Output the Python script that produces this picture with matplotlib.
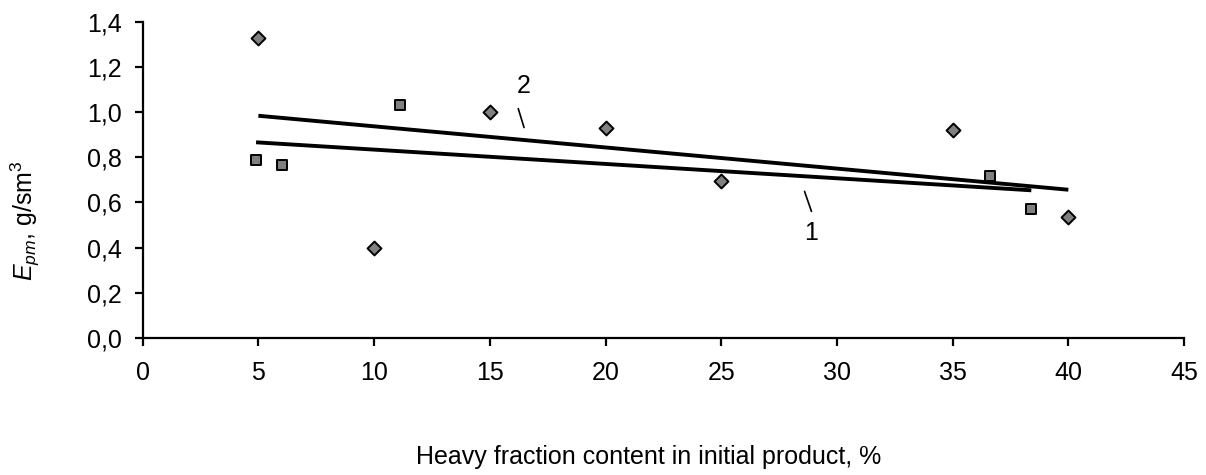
import numpy as np
import matplotlib
matplotlib.use('Agg')
import matplotlib.pyplot as plt
from matplotlib.ticker import FuncFormatter

# данные серии 1 (квадраты)
x1 = [4.9, 6.0, 11.1, 36.6, 38.4]
y1 = [0.79, 0.765, 1.03, 0.715, 0.572]

# данные серии 2 (ромбы)
x2 = [5, 10, 15, 20, 25, 35, 40]
y2 = [1.33, 0.40, 1.00, 0.93, 0.695, 0.92, 0.537]

x_ticks = [0, 5, 10, 15, 20, 25, 30, 35, 40, 45]
y_ticks = [0.0, 0.2, 0.4, 0.6, 0.8, 1.0, 1.2, 1.4]

plt.rcParams['font.family'] = ['Liberation Sans', 'DejaVu Sans']
plt.rcParams['mathtext.fontset'] = 'custom'
plt.rcParams['mathtext.rm'] = 'Liberation Sans'
plt.rcParams['mathtext.it'] = 'Liberation Sans:italic'

fs = 18

fig = plt.figure(figsize=(12.06, 4.75), dpi=100)
ax = fig.add_axes([0.1183, 0.289, 0.8635, 0.6647])

# линии тренда (линейная регрессия)
for xs, ys in ((x1, y1), (x2, y2)):
    k, b = np.polyfit(xs, ys, 1)
    xx = np.array([min(xs), max(xs)])
    ax.plot(xx, k * xx + b, color='black', lw=2.8, solid_capstyle='butt', zorder=2)

ax.scatter(x1, y1, marker='s', s=62, facecolor='#808080', edgecolor='black', linewidth=1.4, zorder=3)
ax.scatter(x2, y2, marker='D', s=50, facecolor='#808080', edgecolor='black', linewidth=1.4, zorder=3)

# подписи кривых и выноски
ax.text(16.46, 1.116, '2', fontsize=fs, ha='center', va='center')
ax.annotate('', xy=(16.48, 0.932), xytext=(16.23, 1.016),
            arrowprops=dict(arrowstyle='-', lw=1.2, color='black', shrinkA=0, shrinkB=0))
ax.text(28.9, 0.465, '1', fontsize=fs, ha='center', va='center')
ax.annotate('', xy=(28.9, 0.56), xytext=(28.6, 0.649),
            arrowprops=dict(arrowstyle='-', lw=1.2, color='black', shrinkA=0, shrinkB=0))

ax.set_xlim(0, 45)
ax.set_ylim(0, 1.4)
ax.set_xticks(x_ticks)
ax.set_yticks(y_ticks)
ax.yaxis.set_major_formatter(FuncFormatter(lambda v, p: f'{v:.1f}'.replace('.', ',')))

for s in ('top', 'right'):
    ax.spines[s].set_visible(False)
for s in ('left', 'bottom'):
    ax.spines[s].set_linewidth(1.6)
ax.tick_params(axis='both', direction='out', length=6, width=1.6, labelsize=fs)
ax.tick_params(axis='x', pad=11)
ax.tick_params(axis='y', pad=9)

fig.text(649 / 1206, 1 - 457 / 475, 'Heavy fraction content in initial product, %',
         fontsize=fs, ha='center', va='center')
fig.text(25 / 1206, 1 - 221 / 475, r'$E_{pm}$, g/sm$^{3}$', fontsize=fs,
         rotation=90, ha='center', va='center')

fig.savefig('out.png', dpi=100)
